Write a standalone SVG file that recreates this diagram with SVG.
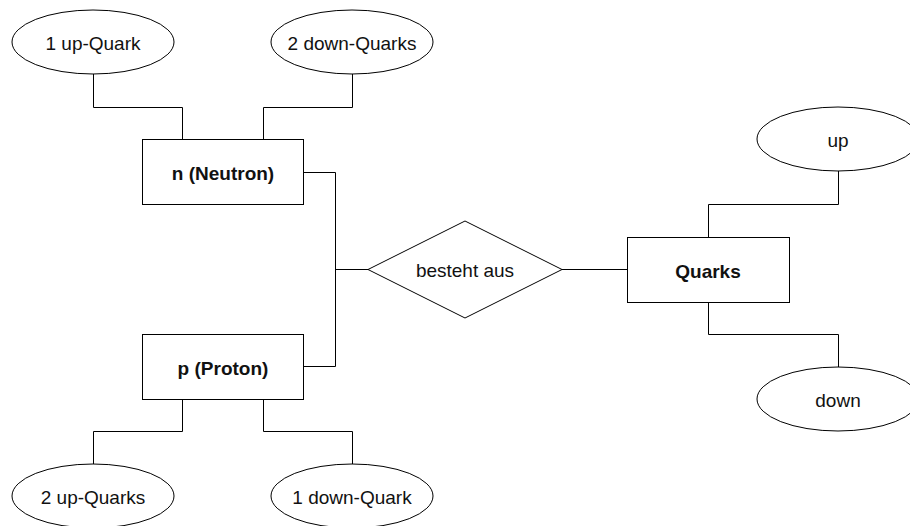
<svg xmlns="http://www.w3.org/2000/svg" width="910" height="526" viewBox="0 0 910 526">
<style>
.shape{fill:#fff;stroke:#000;stroke-width:1}
.conn path{fill:none;stroke:#000;stroke-width:1}
text{font-family:"Liberation Sans",Arial,sans-serif;font-size:19px;fill:#111;text-anchor:middle;dominant-baseline:central}
.b{font-weight:bold}
</style>
<rect width="910" height="526" fill="#fff"/>
<g class="conn" id="connectors">
<path d="M93.5 74V107.5H182.5V139"/>
<path d="M352.5 74V107.5H263.5V139"/>
<path d="M303 172.5H335.5V366.5H303"/>
<path d="M335.5 269.5H368"/>
<path d="M562 269.5H627"/>
<path d="M182.5 399V431.5H93.5V464"/>
<path d="M263.5 399V431.5H352.5V464"/>
<path d="M838.5 171V204.5H708.5V237"/>
<path d="M708.5 302V334.5H838.5V367"/>
</g>
<g id="e1"><ellipse class="shape" cx="93" cy="42" rx="81" ry="32"/><text x="93" y="43">1 up-Quark</text></g>
<g id="e2"><ellipse class="shape" cx="352" cy="42" rx="81" ry="32"/><text x="352" y="43">2 down-Quarks</text></g>
<g id="neutron"><rect class="shape" x="142.5" y="139.5" width="161" height="65"/><text class="b" x="223" y="173">n (Neutron)</text></g>
<g id="proton"><rect class="shape" x="142.5" y="334.5" width="161" height="65"/><text class="b" x="223" y="368">p (Proton)</text></g>
<g id="e3"><ellipse class="shape" cx="93" cy="496" rx="81" ry="32"/><text x="93" y="497">2 up-Quarks</text></g>
<g id="e4"><ellipse class="shape" cx="352" cy="496" rx="81" ry="32"/><text x="352" y="497">1 down-Quark</text></g>
<g id="rel"><polygon class="shape" points="465,221 562,269.5 465,318 368,269.5"/><text x="465" y="270">besteht aus</text></g>
<g id="quarks"><rect class="shape" x="627.5" y="237.5" width="162" height="65"/><text class="b" x="708" y="271">Quarks</text></g>
<g id="up"><ellipse class="shape" cx="838" cy="139" rx="81" ry="32"/><text x="838" y="140">up</text></g>
<g id="down"><ellipse class="shape" cx="838" cy="399" rx="81" ry="32"/><text x="838" y="400">down</text></g>
</svg>
